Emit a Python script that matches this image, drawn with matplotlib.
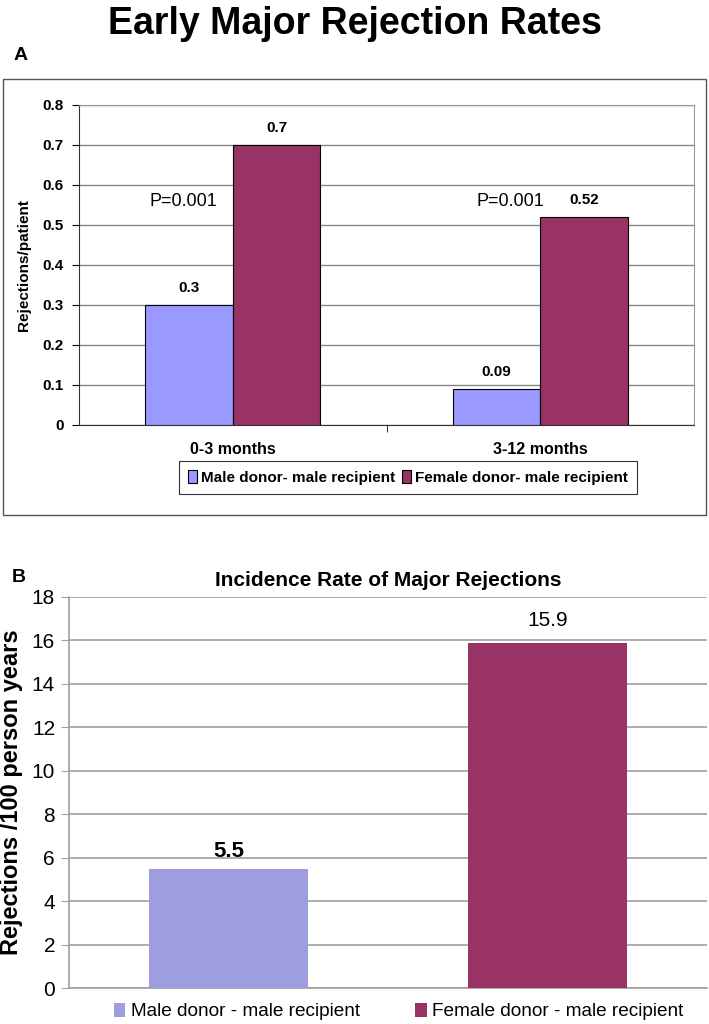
import matplotlib
matplotlib.use("Agg")
import matplotlib.pyplot as plt
from matplotlib.patches import Rectangle, Patch
import numpy as np

plt.rcParams['font.family'] = ['Liberation Sans Narrow', 'Liberation Sans', 'DejaVu Sans']

# ==================== DATA ====================
periods = ["0-3 months", "3-12 months"]
male_rate = [0.3, 0.09]
female_rate = [0.7, 0.52]
p_values = ["P=0.001", "P=0.001"]

groups_b = ["Male donor - male recipient", "Female donor - male recipient"]
incidence = [5.5, 15.9]

W, H = 709, 1024
fig = plt.figure(figsize=(W / 100, H / 100), dpi=100)

def fx(px):
    return px / W

def fy(py):
    return 1 - py / H

fig.text(0.5, fy(24), "Early Major Rejection Rates", ha='center', va='center',
         fontsize=27, fontweight='bold')

# ==================== PANEL A ====================
fig.text(fx(14), fy(56), "A", ha='left', va='center', fontsize=14, fontweight='bold')
fig.patches.append(Rectangle((fx(3), fy(515)), fx(703), (515 - 79) / H,
                             transform=fig.transFigure, fill=False,
                             edgecolor='#555555', linewidth=1.0))

axA = fig.add_axes([fx(79), fy(425), fx(615), (425 - 105) / H])
x = np.arange(len(periods))
w = 0.285
bm = axA.bar(x - w / 2, male_rate, w, color='#9999FF', edgecolor='black', linewidth=0.8,
             label='Male donor- male recipient', zorder=3)
bf = axA.bar(x + w / 2, female_rate, w, color='#993366', edgecolor='black', linewidth=0.8,
             label='Female donor- male recipient', zorder=3)
axA.set_xlim(-0.5, 1.5)
axA.set_ylim(0, 0.8)
axA.set_yticks(np.arange(0, 0.81, 0.1))
axA.set_yticklabels(['0'] + ['%.1f' % v for v in np.arange(0.1, 0.81, 0.1)],
                    fontsize=11, fontweight='bold')
axA.yaxis.grid(True, color='#888888', linewidth=1.0, zorder=0)
axA.set_xticks(x)
axA.set_xticklabels(periods, fontsize=11.5, fontweight='bold')
axA.set_xticks([0.5], minor=True)
axA.tick_params(axis='x', which='major', length=0, pad=12)
axA.tick_params(axis='x', which='minor', length=5, direction='out')
axA.tick_params(axis='y', length=5, direction='out', pad=6)
for s in ['top', 'right']:
    axA.spines[s].set_color('#999999')
axA.spines['left'].set_color('#333333')
axA.spines['bottom'].set_color('#333333')
axA.set_ylabel("Rejections/patient", fontsize=11, fontweight='bold', labelpad=8)

for bars, vals in ((bm, male_rate), (bf, female_rate)):
    for b, v in zip(bars, vals):
        axA.annotate(('%g' % v), (b.get_x() + b.get_width() / 2, v),
                     xytext=(0, 7), textcoords='offset points', ha='center', va='bottom',
                     fontsize=11, fontweight='bold')

axA.text(-0.05, 0.56, p_values[0], ha='right', va='center', fontsize=13)
axA.text(1.013, 0.56, p_values[1], ha='right', va='center', fontsize=13)

legA = axA.legend(loc='center', bbox_to_anchor=(0.535, -0.165), ncol=2, fontsize=11,
                  frameon=True, fancybox=False, edgecolor='black', handlelength=0.6,
                  handleheight=0.9, handletextpad=0.3, columnspacing=0.4,
                  borderpad=0.6)
legA.get_frame().set_linewidth(0.8)
for t in legA.get_texts():
    t.set_fontweight('bold')

# ==================== PANEL B ====================
fig.text(fx(12), fy(577), "B", ha='left', va='center', fontsize=14, fontweight='bold')

axB = fig.add_axes([fx(69), fy(988), fx(638), (988 - 597) / H])
xb = np.arange(len(groups_b))
colors_b = ['#9E9EDE', '#993366']
barsB = axB.bar(xb, incidence, 0.497, color=colors_b, zorder=3)
axB.set_xlim(-0.5, 1.5)
axB.set_ylim(0, 18)
axB.set_yticks(np.arange(0, 19, 2))
axB.set_yticklabels([str(v) for v in range(0, 19, 2)], fontsize=15)
axB.yaxis.grid(True, color='#A0A0A0', linewidth=1.2, zorder=0)
axB.set_xticks([])
axB.tick_params(axis='y', length=6, color='#A0A0A0', pad=4)
for s in ['top', 'right']:
    axB.spines[s].set_visible(False)
axB.spines['left'].set_color('#A0A0A0')
axB.spines['bottom'].set_color('#A0A0A0')
axB.spines['left'].set_linewidth(1.2)
axB.spines['bottom'].set_linewidth(1.2)
axB.set_ylabel("Rejections /100 person years", fontsize=17, fontweight='bold', labelpad=6)
axB.set_title("Incidence Rate of Major Rejections", fontsize=15, fontweight='bold', pad=8)

axB.annotate('%g' % incidence[0], (xb[0], incidence[0]), xytext=(0, 5),
             textcoords='offset points', ha='center', va='bottom', fontsize=16,
             fontweight='bold')
axB.annotate('%g' % incidence[1], (xb[1], incidence[1]), xytext=(0, 9),
             textcoords='offset points', ha='center', va='bottom', fontsize=15)

handlesB = [Patch(facecolor=c) for c in colors_b]
axB.legend(handlesB, groups_b, loc='center', bbox_to_anchor=(0.517, -0.06), ncol=2,
           fontsize=13.7, frameon=False, handlelength=0.6, handleheight=0.8,
           handletextpad=0.3, columnspacing=2.9)

plt.savefig('out.png', dpi=100, facecolor='white')
